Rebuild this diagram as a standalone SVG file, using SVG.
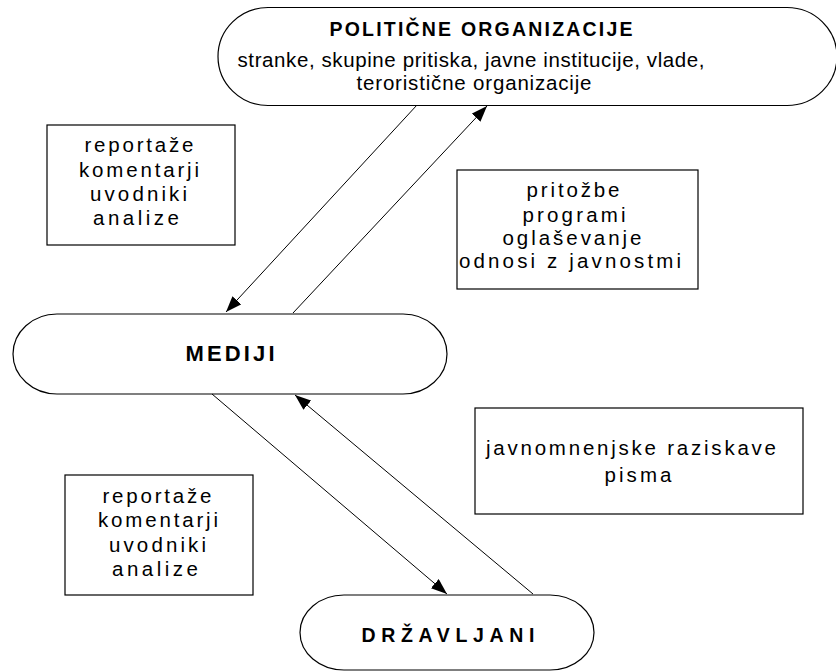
<svg xmlns="http://www.w3.org/2000/svg" width="836" height="672" viewBox="0 0 836 672">
<defs>
<style>
.pill{fill:#fff;stroke:#000;stroke-width:1.2}
.box{fill:#fff;stroke:#000;stroke-width:1.2}
.t{font-family:"Liberation Sans",Arial,sans-serif;font-size:20.5px;fill:#000;text-anchor:middle}
.b{font-family:"Liberation Sans",Arial,sans-serif;font-size:19.5px;font-weight:bold;fill:#000;text-anchor:middle}
.c{stroke:#000;stroke-width:1;fill:none;marker-end:url(#ah)}
</style>
<marker id="ah" viewBox="0 0 16 12" refX="16" refY="6" markerWidth="16" markerHeight="12" orient="auto" markerUnits="userSpaceOnUse"><path d="M0,0 L16,6 L0,12 z" fill="#000"/></marker>
</defs>
<rect width="836" height="672" fill="#fff"/>
<g id="politicne">
<rect class="pill" x="218" y="7.5" width="619" height="98" rx="50" ry="49"/>
<text class="b" x="481" y="36" textLength="303" lengthAdjust="spacing">POLITIČNE ORGANIZACIJE</text>
<text class="t" x="471" y="67" textLength="467" lengthAdjust="spacing">stranke, skupine pritiska, javne institucije, vlade,</text>
<text class="t" x="474" y="90" textLength="235" lengthAdjust="spacing">teroristične organizacije</text>
</g>
<g id="mediji">
<rect class="pill" x="13" y="314" width="434" height="80" rx="44" ry="40"/>
<text class="b" x="230" y="361" textLength="89" lengthAdjust="spacing" style="font-size:22px">MEDIJI</text>
</g>
<g id="drzavljani">
<rect class="pill" x="300" y="595" width="294" height="75" rx="44" ry="37.5"/>
<text class="b" x="448" y="642" textLength="173" lengthAdjust="spacing">DRŽAVLJANI</text>
</g>
<g id="box1">
<rect class="box" x="47" y="125" width="188" height="120"/>
<text class="t" x="139" y="152" textLength="109" lengthAdjust="spacing">reportaže</text>
<text class="t" x="139" y="177" textLength="120" lengthAdjust="spacing">komentarji</text>
<text class="t" x="138.5" y="201" textLength="97" lengthAdjust="spacing">uvodniki</text>
<text class="t" x="136" y="225" textLength="86" lengthAdjust="spacing">analize</text>
</g>
<g id="box2">
<rect class="box" x="457" y="170" width="241" height="119"/>
<text class="t" x="573" y="197" textLength="93" lengthAdjust="spacing">pritožbe</text>
<text class="t" x="574" y="222" textLength="103" lengthAdjust="spacing">programi</text>
<text class="t" x="572" y="245" textLength="139" lengthAdjust="spacing">oglaševanje</text>
<text class="t" x="570" y="268" textLength="222" lengthAdjust="spacing">odnosi z javnostmi</text>
</g>
<g id="box3">
<rect class="box" x="475" y="408" width="328" height="106"/>
<text class="t" x="631" y="455" textLength="290" lengthAdjust="spacing">javnomnenjske raziskave</text>
<text class="t" x="638" y="482" textLength="67" lengthAdjust="spacing">pisma</text>
</g>
<g id="box4">
<rect class="box" x="65" y="475" width="188" height="120"/>
<text class="t" x="157" y="503" textLength="109" lengthAdjust="spacing">reportaže</text>
<text class="t" x="158" y="527" textLength="120" lengthAdjust="spacing">komentarji</text>
<text class="t" x="157.5" y="552" textLength="97" lengthAdjust="spacing">uvodniki</text>
<text class="t" x="155" y="576" textLength="86" lengthAdjust="spacing">analize</text>
</g>
<g id="connectors">
<line class="c" x1="417" y1="105" x2="226" y2="312"/>
<line class="c" x1="293" y1="313" x2="487" y2="106"/>
<line class="c" x1="212" y1="394" x2="447" y2="594"/>
<line class="c" x1="533" y1="594" x2="295" y2="395"/>
</g>
</svg>
